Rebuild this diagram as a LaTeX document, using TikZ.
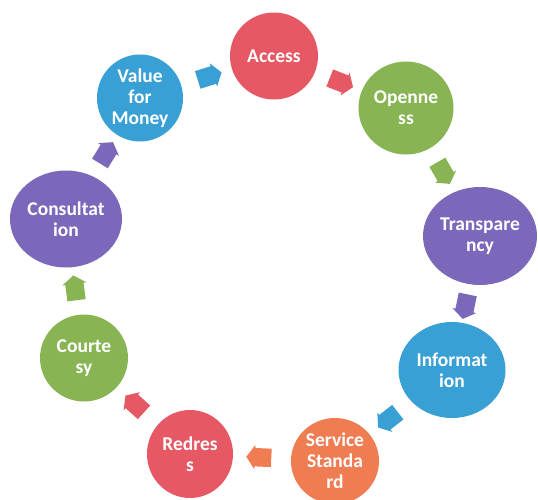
\documentclass[tikz,border=0pt]{standalone}
\usepackage{fontspec}
\setmainfont{Carlito}
\usepackage{tikz}
\usetikzlibrary{shapes.geometric}
\usetikzlibrary{shapes.arrows}

\definecolor{cred}{RGB}{229,88,100}
\definecolor{cgreen}{RGB}{136,180,84}
\definecolor{cpurple}{RGB}{124,104,186}
\definecolor{cblue}{RGB}{56,160,212}
\definecolor{corange}{RGB}{240,124,82}

\begin{document}
\begin{tikzpicture}[x=1pt, y=-1pt,
    stage/.style={ellipse, inner sep=0pt, text=white, align=center,
      font=\bfseries\fontsize{19.5}{21}\selectfont},
    turn/.style={single arrow, inner xsep=0pt, inner ysep=9pt, minimum height=25pt,
      single arrow head extend=3pt, single arrow tip angle=110, sloped, allow upside down}]
    \useasboundingbox (0, 0) rectangle (538, 499);

    % Stages
    \node [stage, fill=cred, minimum width=88pt, minimum height=87pt] (access) at (274, 56) {Access};
    \node [stage, fill=cgreen, minimum width=95pt, minimum height=93pt] (open) at (406, 108) {Openne\\ss};
    \node [stage, fill=cpurple, minimum width=114pt, minimum height=98pt] (transp) at (480, 236) {Transpare\\ncy};
    \node [stage, fill=cblue, minimum width=107pt, minimum height=96pt] (info) at (452, 370) {Informat\\ion};
    \node [stage, fill=corange, minimum width=88pt, minimum height=86pt] (service) at (335, 461) {Service\\Standa\\rd};
    \node [stage, fill=cred, minimum width=86pt, minimum height=88pt] (redress) at (190, 454) {Redres\\s};
    \node [stage, fill=cgreen, minimum width=88pt, minimum height=87pt] (court) at (84, 358) {Courte\\sy};
    \node [stage, fill=cpurple, minimum width=112pt, minimum height=97pt] (consult) at (66, 219) {Consultat\\ion};
    \node [stage, fill=cblue, minimum width=86pt, minimum height=87pt] (value) at (140, 98) {Value\\for\\Money};

    % Arrows
    \path (value) -- (access) node [turn, midway, fill=cblue] (a1) {};
    \path (access) -- (open) node [turn, midway, fill=cred] (a2) {};
    \path (open) -- (transp) node [turn, midway, fill=cgreen] (a3) {};
    \path (transp) -- (info) node [turn, midway, fill=cpurple] (a4) {};
    \path (info) -- (service) node [turn, midway, fill=cblue] (a5) {};
    \path (service) -- (redress) node [turn, midway, fill=corange] (a6) {};
    \path (redress) -- (court) node [turn, midway, fill=cred] (a7) {};
    \path (court) -- (consult) node [turn, midway, fill=cgreen] (a8) {};
    \path (consult) -- (value) node [turn, midway, fill=cpurple] (a9) {};
  \end{tikzpicture}
\end{document}
